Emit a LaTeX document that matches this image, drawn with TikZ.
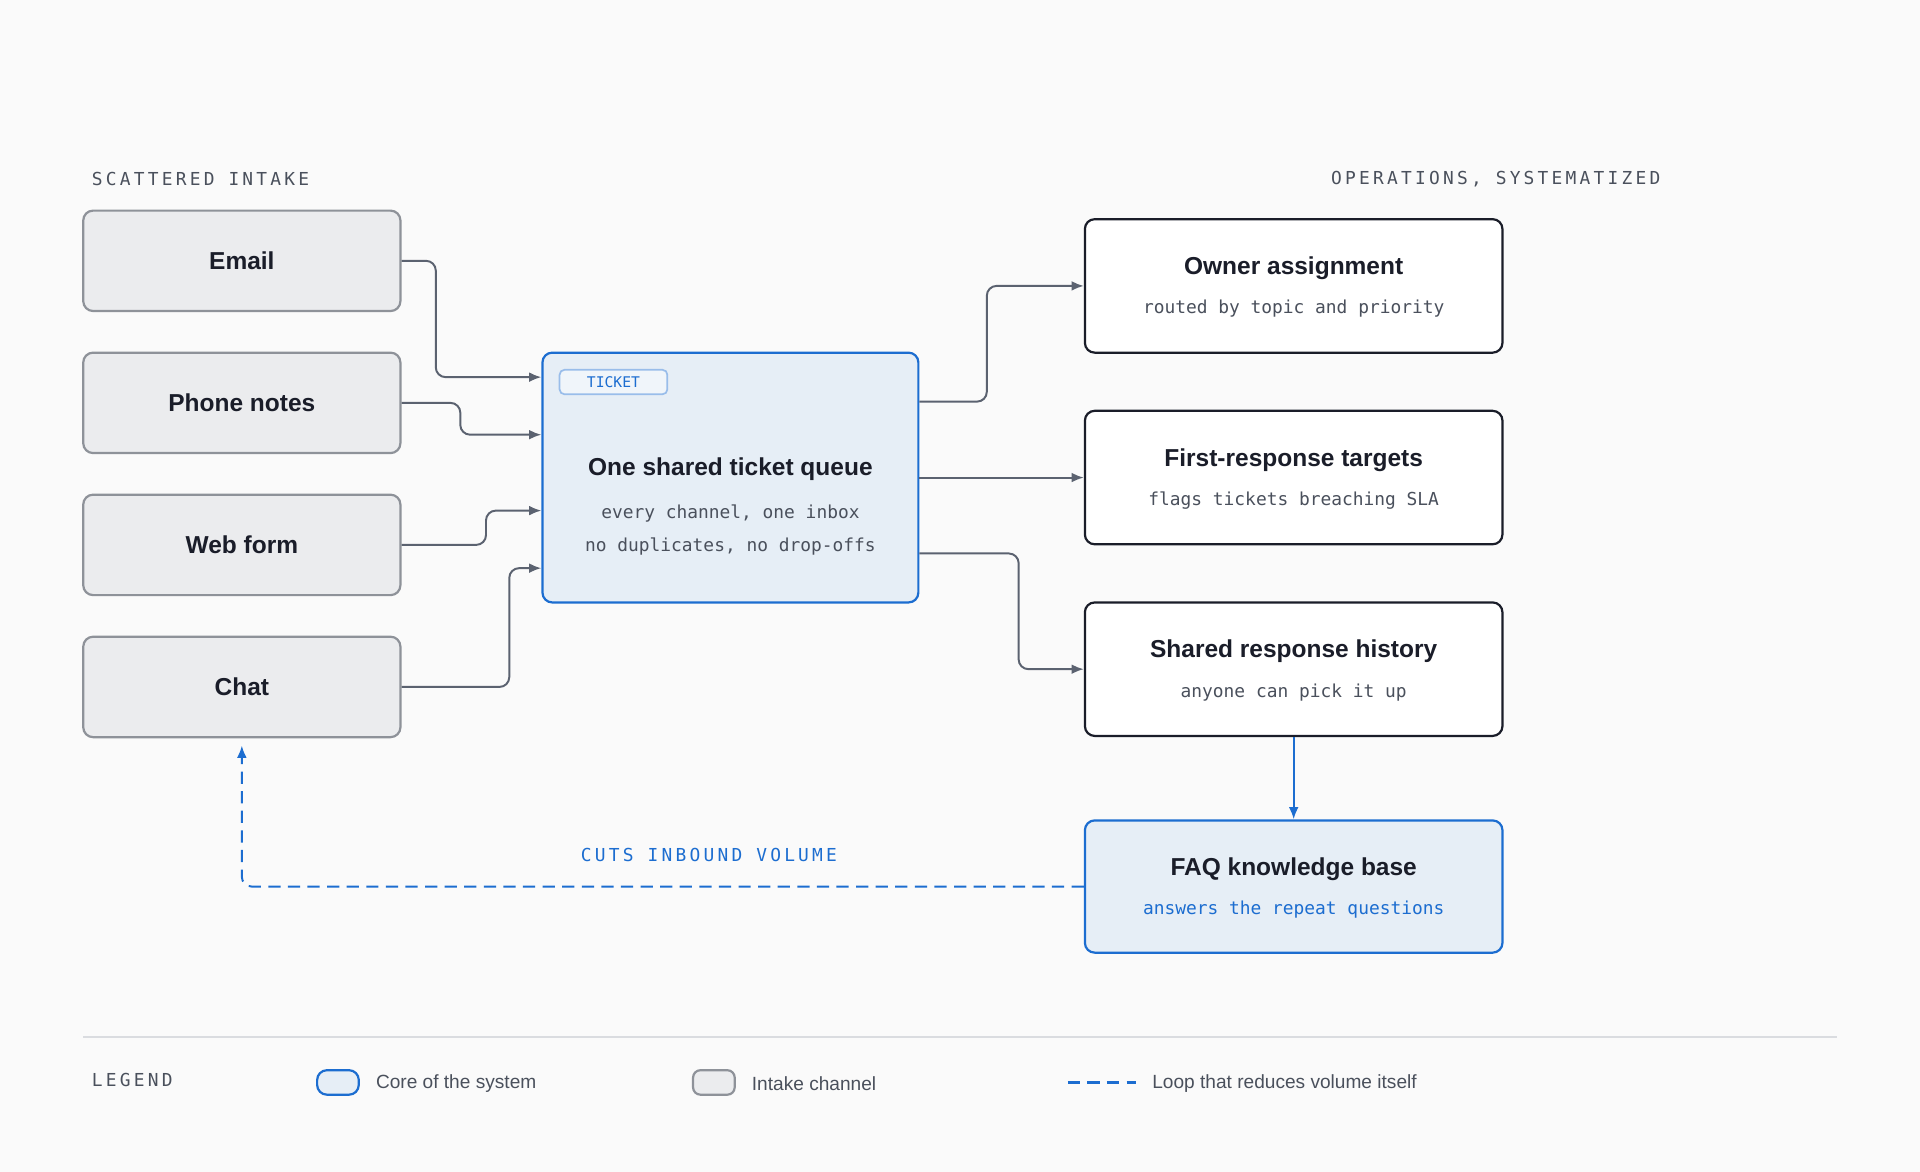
\documentclass[tikz,border=0pt]{standalone}
\usepackage{fontspec}
\setmainfont{Liberation Sans}
\newfontfamily\monof{DejaVu Sans Mono}
\newfontfamily\hdrf[LetterSpace=18]{DejaVu Sans Mono}
\usetikzlibrary{arrows.meta}
\definecolor{bg}{HTML}{FAFAFA}
\definecolor{gfill}{HTML}{EBECEE}
\definecolor{gline}{HTML}{8E9299}
\definecolor{cfill}{HTML}{E6EEF6}
\definecolor{cblue}{HTML}{1C6DD0}
\definecolor{ink}{HTML}{1A1D29}
\definecolor{sub}{HTML}{4A505C}
\definecolor{conn}{HTML}{5B6270}
\definecolor{rule}{HTML}{DADCE0}
\tikzset{
 x=0.5pt,y=-0.5pt,
 intake/.style={draw=gline,fill=gfill,line width=0.9pt,rounded corners=4pt,minimum width=129.5pt,minimum height=41pt,font=\bfseries\fontsize{10}{12}\selectfont,text=ink},
 outb/.style={draw=ink,fill=white,line width=0.9pt,rounded corners=4pt,minimum width=170.5pt,minimum height=54.5pt},
 core/.style={draw=cblue,fill=cfill,line width=0.9pt,rounded corners=4pt},
 ttl/.style={font=\bfseries\fontsize{10}{12}\selectfont,text=ink},
 subt/.style={font=\monof\fontsize{7.3}{9}\selectfont,text=sub},
 hdr/.style={font=\hdrf\fontsize{7.3}{9}\selectfont,text=sub},
 conn/.style={draw=conn,line width=0.8pt,rounded corners=4pt,-{Latex[length=5pt,width=4pt]}},
 leg/.style={font=\fontsize{7.8}{9}\selectfont,text=sub,anchor=west}
}
\begin{document}
\begin{tikzpicture}
\fill[bg] (0,0) rectangle (1568,957);
\useasboundingbox (0,0) rectangle (1568,957);
\node[hdr,anchor=west] (h1) at (68,146) {SCATTERED INTAKE};
\node[hdr,anchor=east] (h2) at (1363,146) {OPERATIONS, SYSTEMATIZED};
\node[intake] (email) at (197.5,213) {Email};
\node[intake] (phone) at (197.5,329) {Phone notes};
\node[intake] (web) at (197.5,445) {Web form};
\node[intake] (chat) at (197.5,561) {Chat};
\node[core,minimum width=153.5pt,minimum height=102pt] (q) at (596.5,390) {};
\node[draw=cblue!45,fill=cfill!60!white,rounded corners=2pt,line width=0.7pt,minimum width=44pt,minimum height=10pt,inner sep=0pt,font=\monof\fontsize{6}{7}\selectfont,text=cblue] (tag) at (501,312) {TICKET};
\node[ttl] (qt) at (596.5,383) {One shared ticket queue};
\node[subt] (qs1) at (596.5,419) {every channel, one inbox};
\node[subt] (qs2) at (596.5,446) {no duplicates, no drop-offs};
\node[outb] (owner) at (1056.5,233.5) {};
\node[ttl] (ot) at (1056.5,219) {Owner assignment};
\node[subt] (os) at (1056.5,252) {routed by topic and priority};
\node[outb] (first) at (1056.5,390) {};
\node[ttl] (ft) at (1056.5,376) {First-response targets};
\node[subt] (fs) at (1056.5,409) {flags tickets breaching SLA};
\node[outb] (shared) at (1056.5,546.5) {};
\node[ttl] (st) at (1056.5,532) {Shared response history};
\node[subt] (ss) at (1056.5,566) {anyone can pick it up};
\node[core,minimum width=170.5pt,minimum height=54pt] (faq) at (1056.5,724) {};
\node[ttl] (fqt) at (1056.5,710) {FAQ knowledge base};
\node[subt,text=cblue] (fqs) at (1056.5,743) {answers the repeat questions};
\draw[conn] (email.east) -- ++(28,0) |- ([yshift=41pt]q.west);
\draw[conn] (phone.east) -- ++(48,0) |- ([yshift=17.5pt]q.west);
\draw[conn] (web.east) -- ++(69,0) |- ([yshift=-13.5pt]q.west);
\draw[conn] (chat.east) -- ++(88,0) |- ([yshift=-37pt]q.west);
\draw[conn] ([yshift=31pt]q.east) -- ++(55,0) |- (owner.west);
\draw[conn] (q.east) -- (first.west);
\draw[conn] ([yshift=-31pt]q.east) -- ++(81,0) |- (shared.west);
\draw[conn,draw=cblue] (shared.south) -- (faq.north);
\coordinate (loopend) at ([yshift=-3pt]chat.south);
\draw[conn,draw=cblue,dash pattern=on 5pt off 3pt] (faq.west) -| (loopend);
\node[font=\hdrf\fontsize{7.3}{9}\selectfont,text=cblue] (cut) at (579,698) {CUTS INBOUND VOLUME};
\draw[rule,line width=0.7pt] (68,847) -- (1500,847);
\node[hdr,anchor=west] (lg) at (68,882) {LEGEND};
\node[core,minimum width=17pt,minimum height=10pt,inner sep=0pt] (l1) at (276,884) {};
\node[leg] (l1t) at (300,885) {Core of the system};
\node[draw=gline,fill=gfill,line width=0.9pt,rounded corners=3pt,minimum width=17pt,minimum height=10pt,inner sep=0pt] (l2) at (583,884) {};
\node[leg] (l2t) at (607,885) {Intake channel};
\coordinate (d1) at (872,884); \coordinate (d2) at (928,884);
\draw[cblue,line width=0.9pt,dash pattern=on 5pt off 3pt] (d1) -- (d2);
\node[leg] (l3t) at (934,885) {Loop that reduces volume itself};
\end{tikzpicture}
\end{document}
